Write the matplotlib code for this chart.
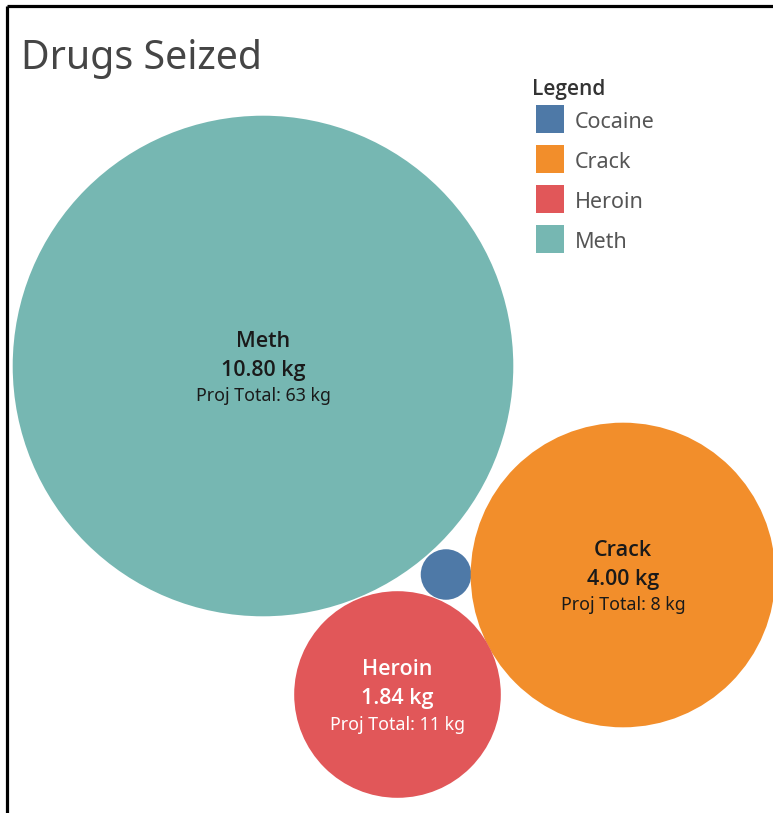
import matplotlib
matplotlib.use("Agg")
import matplotlib.pyplot as plt
from matplotlib.patches import Circle, Rectangle
import numpy as np

# ---- data ----
drugs = ["Cocaine", "Crack", "Heroin", "Meth"]
seized_kg = [0.11, 4.00, 1.84, 10.80]
proj_total_kg = [None, 8, 11, 63]
title = "Drugs Seized"
legend_title = "Legend"

# ---- styles / layout ----
colors = {"Cocaine": "#4E79A7", "Crack": "#F28E2B", "Heroin": "#E15759", "Meth": "#76B7B2"}
label_colors = {"Crack": "#1a1a1a", "Heroin": "#ffffff", "Meth": "#1a1a1a"}
# packed-bubble layout centres (pixel space)
centers = {"Meth": (263, 366), "Crack": (623, 575), "Heroin": (397.5, 694.5), "Cocaine": (446, 574.5)}
radius_scale = 250.3 / np.sqrt(10.80)  # px per sqrt(kg)

plt.rcParams["font.family"] = ["Noto Sans", "DejaVu Sans"]
BOLD = ["Open Sans", "Lato", "DejaVu Sans"]

W, H = 773, 813
fig = plt.figure(figsize=(W / 100, H / 100), dpi=100)
ax = fig.add_axes([0, 0, 1, 1])
ax.set_xlim(0, W)
ax.set_ylim(H, 0)
ax.axis("off")

# frame (left + top)
ax.plot([6.5, 6.5], [H, 6.5], color="black", lw=2.3, solid_capstyle="butt")
ax.plot([6.5, W], [6.5, 6.5], color="black", lw=2.3, solid_capstyle="butt")

# title
ax.text(21, 69, title, fontsize=28.3, color="#454545", va="baseline", ha="left")

# bubbles
for name, val, proj in zip(drugs, seized_kg, proj_total_kg):
    cx, cy = centers[name]
    r = radius_scale * np.sqrt(val)
    ax.add_patch(Circle((cx, cy), r, facecolor=colors[name], edgecolor="none"))
    if proj is not None:
        tc = label_colors[name]
        ax.text(cx, cy - 25, name, ha="center", va="center", fontsize=15.5,
                fontweight="semibold", family=BOLD, color=tc)
        ax.text(cx, cy + 4, f"{val:.2f} kg", ha="center", va="center", fontsize=15.5,
                fontweight="semibold", family=BOLD, color=tc)
        ax.text(cx, cy + 30, f"Proj Total: {proj} kg", ha="center", va="center",
                fontsize=12.8, color=tc)

# legend
ax.text(532, 95, legend_title, fontsize=15, fontweight="semibold", family=BOLD,
        color="#333333", va="baseline", ha="left")
for i, name in enumerate(drugs):
    y0 = 105 + 40 * i
    ax.add_patch(Rectangle((536, y0), 28, 28, facecolor=colors[name], edgecolor="none"))
    ax.text(575, y0 + 17, name, fontsize=15.5, color="#555555", va="center", ha="left")

fig.savefig("out.png", dpi=100, facecolor="white")
